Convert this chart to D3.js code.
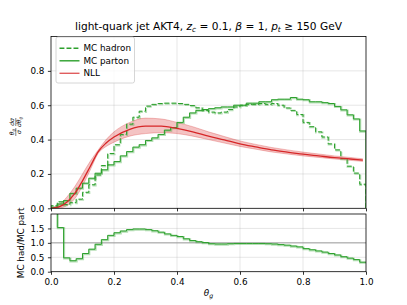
<!DOCTYPE html>
<html>
<head>
<meta charset="utf-8">
<script src="https://cdn.jsdelivr.net/npm/d3@7"></script>
<style>
body { margin: 0; background: #fff; }
svg text { font-family: "DejaVu Sans", sans-serif; fill: #000; }
</style>
</head>
<body>
<div id="chart"></div>
<script>
// bin edges of the histograms (50 bins of 0.02)
const binEdges = d3.range(51).map(i => +(i * 0.02).toFixed(2))

const mcHadron = [0.015, 0.038, 0.022, 0.033, 0.053, 0.093, 0.137, 0.194, 0.249, 0.319,
                  0.37, 0.43, 0.49, 0.53, 0.565, 0.595, 0.605, 0.61, 0.612, 0.612,
                  0.61, 0.605, 0.598, 0.585, 0.57, 0.56, 0.555, 0.56, 0.575, 0.59,
                  0.60, 0.605, 0.605, 0.61, 0.605, 0.61, 0.60, 0.584, 0.57, 0.546,
                  0.50, 0.475, 0.445, 0.415, 0.375, 0.34, 0.29, 0.245, 0.205, 0.14]

const mcParton = [0.006, 0.025, 0.045, 0.087, 0.117, 0.146, 0.175, 0.204, 0.224, 0.253,
                  0.272, 0.305, 0.33, 0.356, 0.37, 0.395, 0.41, 0.43, 0.455, 0.47,
                  0.50, 0.53, 0.555, 0.57, 0.575, 0.58, 0.585, 0.59, 0.59, 0.60,
                  0.60, 0.612, 0.612, 0.62, 0.62, 0.632, 0.635, 0.635, 0.645, 0.635,
                  0.632, 0.62, 0.62, 0.615, 0.61, 0.593, 0.573, 0.544, 0.52, 0.45]

const ratio = [2.6, 1.53, 0.48, 0.38, 0.45, 0.63, 0.78, 0.95, 1.11, 1.26,
               1.35, 1.41, 1.46, 1.48, 1.48, 1.46, 1.42, 1.37, 1.31, 1.26,
               1.22, 1.14, 1.08, 1.04, 1.01, 0.97, 0.96, 0.96, 0.97, 0.98,
               0.98, 0.98, 0.98, 0.98, 0.97, 0.96, 0.94, 0.92, 0.89, 0.86,
               0.80, 0.76, 0.72, 0.68, 0.63, 0.58, 0.52, 0.47, 0.42, 0.33]

const nllTheta   = [0, 0.025, 0.05, 0.075, 0.1, 0.125, 0.15, 0.175, 0.2, 0.25, 0.3, 0.35, 0.4,
                    0.45, 0.5, 0.55, 0.6, 0.65, 0.7, 0.75, 0.8, 0.85, 0.9, 0.95, 0.99]
const nllCentral = [0, 0.008, 0.035, 0.085, 0.16, 0.245, 0.33, 0.38, 0.415, 0.46, 0.478, 0.478, 0.465,
                    0.445, 0.42, 0.398, 0.375, 0.357, 0.34, 0.327, 0.315, 0.305, 0.295, 0.287, 0.28]
const nllLow     = [0, 0.002, 0.015, 0.055, 0.13, 0.225, 0.32, 0.36, 0.385, 0.42, 0.435, 0.44, 0.435,
                    0.42, 0.40, 0.38, 0.36, 0.344, 0.328, 0.316, 0.305, 0.296, 0.287, 0.279, 0.273]
const nllHigh    = [0, 0.02, 0.065, 0.125, 0.2, 0.275, 0.34, 0.40, 0.445, 0.50, 0.525, 0.52, 0.50,
                    0.475, 0.445, 0.418, 0.392, 0.372, 0.354, 0.34, 0.327, 0.316, 0.305, 0.296, 0.288]

const xTicks = [0, 0.2, 0.4, 0.6, 0.8, 1.0]
const yTicksTop = [0, 0.2, 0.4, 0.6, 0.8]
const yTicksBot = [0, 0.5, 1.0, 1.5]

const GREEN = "#2ca02c", RED = "#d62728"
const W = 407, H = 305

const svg = d3.select("#chart").append("svg").attr("width", W).attr("height", H)

const x = d3.scaleLinear().domain([0, 1]).range([51, 366])
const yT = d3.scaleLinear().domain([0, 1]).range([208.3, 36.5])
const yB = d3.scaleLinear().domain([0, 2]).range([271.7, 214])

function clip(id, y0, y1) {
    svg.append("clipPath").attr("id", id).append("rect")
        .attr("x", x(0)).attr("y", y0).attr("width", x(1) - x(0)).attr("height", y1 - y0)
}
clip("clipTop", yT(1), yT(0))
clip("clipBot", yB(2), yB(0))

function grid(y, yTicks) {
    const g = svg.append("g")
    g.selectAll(".gx").data(xTicks.slice(1, -1)).enter().append("line")
        .attr("x1", d => x(d)).attr("x2", d => x(d))
        .attr("y1", y.range()[1]).attr("y2", y.range()[0])
        .attr("stroke", "#b0b0b0").attr("stroke-opacity", 0.4).attr("stroke-width", 0.8)
    g.selectAll(".gy").data(yTicks.slice(1)).enter().append("line")
        .attr("x1", x(0)).attr("x2", x(1))
        .attr("y1", d => y(d)).attr("y2", d => y(d))
        .attr("stroke", "#b0b0b0").attr("stroke-opacity", 0.4).attr("stroke-width", 0.8)
}
grid(yT, yTicksTop)
grid(yB, yTicksBot)

// reference line at 1 in the ratio panel
svg.append("line").attr("x1", x(0)).attr("x2", x(1)).attr("y1", yB(1)).attr("y2", yB(1))
    .attr("stroke", "#999").attr("stroke-width", 0.9)

function stepPoints(vals, closed) {
    const pts = closed ? [[binEdges[0], 0]] : []
    vals.forEach((v, i) => { pts.push([binEdges[i], v]); pts.push([binEdges[i + 1], v]) })
    if (closed) pts.push([binEdges[binEdges.length - 1], 0])
    return pts
}

function drawStep(g, y, vals, closed, dash) {
    const line = d3.line().x(d => x(d[0])).y(d => y(d[1]))
    const pts = stepPoints(vals, closed)
    g.append("path").attr("d", line(pts)).attr("fill", "none")
        .attr("stroke", GREEN).attr("stroke-opacity", 0.35).attr("stroke-width", 2.1)
        .attr("stroke-dasharray", dash).attr("transform", "translate(0.5,0.6)")
    g.append("path").attr("d", line(pts)).attr("fill", "none")
        .attr("stroke", GREEN).attr("stroke-width", 1.0)
        .attr("stroke-dasharray", dash)
}

const topG = svg.append("g").attr("clip-path", "url(#clipTop)")

// NLL band + central line
const nll = nllTheta.map((t, i) => ({t: t, c: nllCentral[i], lo: nllLow[i], hi: nllHigh[i]}))
const area = d3.area().x(d => x(d.t)).y0(d => yT(d.lo)).y1(d => yT(d.hi)).curve(d3.curveMonotoneX)
topG.append("path").attr("d", area(nll)).attr("fill", RED).attr("fill-opacity", 0.28)
topG.append("path").attr("d", d3.line().x(d => x(d.t)).y(d => yT(d.lo)).curve(d3.curveMonotoneX)(nll))
    .attr("fill", "none").attr("stroke", RED).attr("stroke-opacity", 0.35).attr("stroke-width", 0.8)
topG.append("path").attr("d", d3.line().x(d => x(d.t)).y(d => yT(d.hi)).curve(d3.curveMonotoneX)(nll))
    .attr("fill", "none").attr("stroke", RED).attr("stroke-opacity", 0.35).attr("stroke-width", 0.8)

drawStep(topG, yT, mcHadron, true, "4.9,2.1")
drawStep(topG, yT, mcParton, true, null)

topG.append("path").attr("d", d3.line().x(d => x(d.t)).y(d => yT(d.c)).curve(d3.curveMonotoneX)(nll))
    .attr("fill", "none").attr("stroke", RED).attr("stroke-width", 1.3)

const botG = svg.append("g").attr("clip-path", "url(#clipBot)")
drawStep(botG, yB, ratio, false, null)

// frames
function frame(y) {
    svg.append("rect").attr("x", x(0)).attr("y", y.range()[1])
        .attr("width", x(1) - x(0)).attr("height", y.range()[0] - y.range()[1])
        .attr("fill", "none").attr("stroke", "#000").attr("stroke-width", 0.8)
}
frame(yT)
frame(yB)

// axes
const fmt = d3.format(".1f")
function styleAxis(g) {
    g.select(".domain").remove()
    g.selectAll("line").attr("stroke", "#000").attr("stroke-width", 0.8)
    g.selectAll("text").attr("font-size", "8.8px").attr("font-family", "DejaVu Sans")
}
svg.append("g").attr("transform", `translate(${x(0)},0)`)
    .call(d3.axisLeft(yT).tickValues(yTicksTop).tickFormat(fmt).tickSize(3.1).tickPadding(3.5))
    .call(styleAxis)
svg.append("g").attr("transform", `translate(${x(0)},0)`)
    .call(d3.axisLeft(yB).tickValues(yTicksBot).tickFormat(fmt).tickSize(3.1).tickPadding(3.5))
    .call(styleAxis)
svg.append("g").attr("transform", `translate(0,${yT(0)})`)
    .call(d3.axisBottom(x).tickValues(xTicks).tickFormat("").tickSize(3.1))
    .call(styleAxis)
svg.append("g").attr("transform", `translate(0,${yB(0)})`)
    .call(d3.axisBottom(x).tickValues(xTicks).tickFormat(fmt).tickSize(3.1).tickPadding(3.5))
    .call(styleAxis)

// title with math parts
const title = svg.append("text").attr("x", (x(0) + x(1)) / 2).attr("y", 30)
    .attr("text-anchor", "middle").attr("font-size", "10.6px")
title.append("tspan").text("light-quark jet AKT4, ")
title.append("tspan").attr("font-style", "italic").text("z")
title.append("tspan").attr("font-style", "italic").attr("font-size", "7.4px").attr("dy", 2).text("c")
title.append("tspan").attr("dy", -2).text(" = 0.1, ")
title.append("tspan").attr("font-style", "italic").text("β")
title.append("tspan").text(" = 1, ")
title.append("tspan").attr("font-style", "italic").text("p")
title.append("tspan").attr("font-style", "italic").attr("font-size", "7.4px").attr("dy", 2).text("t")
title.append("tspan").attr("dy", -2).text(" ≥ 150 GeV")

// x label
const xl = svg.append("text").attr("x", (x(0) + x(1)) / 2).attr("y", 296)
    .attr("text-anchor", "middle").attr("font-size", "8.8px")
xl.append("tspan").attr("font-style", "italic").text("θ")
xl.append("tspan").attr("font-style", "italic").attr("font-size", "6.2px").attr("dy", 2).text("g")

// ratio y label
svg.append("text").attr("transform", `translate(24,${(yB(0) + yB(2)) / 2}) rotate(-90)`)
    .attr("text-anchor", "middle").attr("font-size", "8.8px").text("MC had/MC part")

// top y label: θg/σ · dσ/dθg as stacked fractions
const yl = svg.append("g").attr("transform", "translate(16,127) rotate(-90)")
function frac(cx, num, numSub, den, denSub) {
    const n = yl.append("text").attr("x", cx).attr("y", -1.8).attr("text-anchor", "middle").attr("font-size", "6px")
    n.append("tspan").attr("font-style", "italic").text(num)
    if (numSub) n.append("tspan").attr("font-style", "italic").attr("font-size", "4.2px").attr("dy", 1.2).text(numSub)
    const d = yl.append("text").attr("x", cx).attr("y", 5.2).attr("text-anchor", "middle").attr("font-size", "6px")
    d.append("tspan").attr("font-style", "italic").text(den)
    if (denSub) d.append("tspan").attr("font-style", "italic").attr("font-size", "4.2px").attr("dy", 1.2).text(denSub)
    yl.append("line").attr("x1", cx - 4).attr("x2", cx + 4).attr("y1", -0.2).attr("y2", -0.2)
        .attr("stroke", "#000").attr("stroke-width", 0.5)
}
frac(-5, "θ", "g", "σ", null)
frac(5, "dσ", null, "dθ", "g")

// legend
const lg = svg.append("g")
lg.append("rect").attr("x", 56).attr("y", 37).attr("width", 78.5).attr("height", 46)
    .attr("rx", 2).attr("fill", "#fff").attr("fill-opacity", 0.8)
    .attr("stroke", "#ccc").attr("stroke-width", 0.8)
const legendItems = [
    {label: "MC hadron", color: GREEN, dash: "4.9,2.1", op: 1},
    {label: "MC parton", color: GREEN, dash: null, op: 1},
    {label: "NLL", color: RED, dash: null, op: 0.75}
]
legendItems.forEach((d, i) => {
    const yy = 48.3 + i * 12.5
    lg.append("line").attr("x1", 59.5).attr("x2", 79.5).attr("y1", yy).attr("y2", yy)
        .attr("stroke", d.color).attr("stroke-width", 1.4).attr("stroke-opacity", d.op)
        .attr("stroke-dasharray", d.dash)
    lg.append("text").attr("x", 83.5).attr("y", yy).attr("dy", "0.35em")
        .attr("font-size", "8.8px").text(d.label)
})
</script>
</body>
</html>
